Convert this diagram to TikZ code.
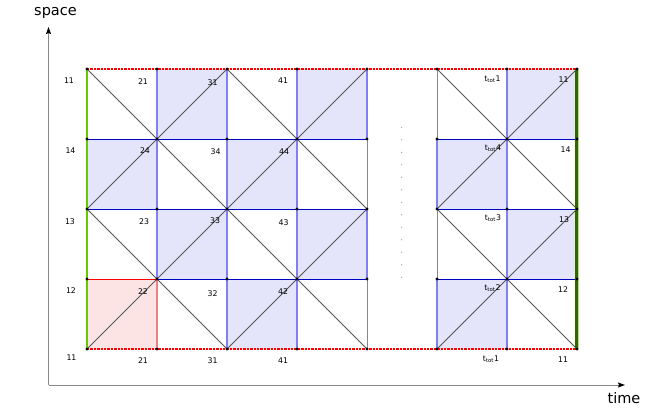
\documentclass[tikz,border=0pt]{standalone}
\usepackage{fontspec}
\setsansfont{DejaVu Sans}
\usetikzlibrary{arrows.meta}
\definecolor{hblue}{RGB}{0,0,195}
\definecolor{vblue}{RGB}{128,128,240}
\definecolor{cellblue}{RGB}{228,228,250}
\definecolor{cellpink}{RGB}{252,228,228}
\definecolor{pinkline}{RGB}{240,128,128}
\definecolor{diagc}{RGB}{85,85,85}
\definecolor{vgray}{RGB}{136,136,136}
\definecolor{lgreen}{RGB}{102,204,0}
\definecolor{llgreen}{RGB}{170,230,120}
\definecolor{dgreen}{RGB}{51,102,0}
\definecolor{axgray}{RGB}{136,136,136}
\tikzset{
  lab/.style={font=\fontsize{7.8}{9}\selectfont\sffamily, inner sep=0pt, text=black},
  axlab/.style={font=\fontsize{14.5}{16}\selectfont\sffamily, inner sep=0pt},
  grayline/.style={vgray, line width=1pt},
  hline/.style={hblue, line width=1pt},
  vline/.style={vblue, line width=1.4pt},
  diagline/.style={diagc, line width=0.9pt},
  redborder/.style={red, line width=2.6pt, dash pattern=on 2.3pt off 1.1pt},
  axisline/.style={axgray, line width=1pt, -{Stealth[length=7pt,width=5pt,inset=1pt,black]}}
}
\begin{document}
\begin{tikzpicture}[x=1pt,y=-1pt]
\useasboundingbox (0,0) rectangle (664,408);
% grid points
\foreach \i in {0,...,7}{
  \foreach \j in {0,...,4}{
    \coordinate (p\i-\j) at ({87+70*\i},{69+70*\j});
  }
}
% shaded cells
\foreach \i/\j/\ii/\jj in {1/0/2/1,3/0/4/1,0/1/1/2,2/1/3/2,1/2/2/3,3/2/4/3,2/3/3/4,6/0/7/1,5/1/6/2,6/2/7/3,5/3/6/4}{
  \fill[cellblue] (p\i-\j) rectangle (p\ii-\jj);
}
\fill[cellpink] (p0-3) rectangle (p1-4);
% gray verticals
\foreach \i in {1,...,6}{
  \draw[grayline] (p\i-0) -- (p\i-4);
}
% horizontal lines
\foreach \j in {1,2,3}{
  \draw[hline] (p0-\j) -- (p4-\j);
  \draw[hline] (p5-\j) -- (p7-\j);
}
% blue vertical borders of shaded cells
\foreach \i/\j/\ii/\jj in {1/0/2/1,3/0/4/1,0/1/1/2,2/1/3/2,1/2/2/3,3/2/4/3,2/3/3/4,6/0/7/1,5/1/6/2,6/2/7/3,5/3/6/4}{
  \draw[vline] (p\i-\j) -- (p\i-\jj);
  \draw[vline] (p\ii-\j) -- (p\ii-\jj);
}
% pink cell borders
\draw[pinkline, line width=1.4pt] (p1-3) -- (p1-4);
\draw[red, line width=1pt] (p0-3) -- (p1-3);
% diagonals
\draw[diagline] (p0-0) -- (p4-4);
\draw[diagline] (p0-2) -- (p2-4);
\draw[diagline] (p2-0) -- (p4-2);
\draw[diagline] (p0-2) -- (p2-0);
\draw[diagline] (p0-4) -- (p4-0);
\draw[diagline] (p2-4) -- (p4-2);
\draw[diagline] (p5-0) -- (p7-2);
\draw[diagline] (p5-2) -- (p7-4);
\draw[diagline] (p5-2) -- (p7-0);
\draw[diagline] (p5-4) -- (p7-2);
% borders
\draw[redborder] (p0-0) -- (p7-0);
\draw[redborder] (p0-4) -- (p7-4);
\draw[lgreen, line width=2.5pt] (p0-0) -- (p0-4);
\draw[llgreen, line width=3pt] ([xshift=0.6pt]p7-0) -- ([xshift=0.6pt]p7-4);
\draw[dgreen, line width=2.2pt] ([xshift=-0.6pt]p7-0) -- ([xshift=-0.6pt]p7-4);
% grid dots
\foreach \i in {0,...,7}{
  \foreach \j in {0,...,4}{
    \fill[black] (p\i-\j) circle (1.7pt);
  }
}
% vertical ellipsis dots
\foreach \n in {0,...,12}{
  \fill[vgray] (401.7,{127.3+12.5*\n}) circle (0.6pt);
}
% axes
\coordinate (O) at (48.5,385);
\coordinate (Ytip) at (48.5,27);
\coordinate (Xtip) at (625,385);
\draw[axisline] (O) -- (Ytip);
\draw[axisline] (O) -- (Xtip);
\node[axlab] (space) at (55.5,13) {space};
\node[axlab] (time) at (624,398) {time};
% left column labels
\node[lab] (l0) at (69,81) {11};
\node[lab] (l1) at (70.5,151) {14};
\node[lab] (l2) at (70,221.5) {13};
\node[lab] (l3) at (71,291) {12};
\node[lab] (l4) at (71.5,358) {11};
% cell labels
\node[lab] (c21t) at (143,81.5) {21};
\node[lab] (c31t) at (212.5,83) {31};
\node[lab] (c41t) at (283,81) {41};
\node[lab] (c24) at (145,151) {24};
\node[lab] (c34) at (215.5,151.5) {34};
\node[lab] (c44) at (284,151.5) {44};
\node[lab] (c23) at (144,222) {23};
\node[lab] (c33) at (215,221) {33};
\node[lab] (c43) at (283.5,222.5) {43};
\node[lab] (c22) at (143,292) {22};
\node[lab] (c32) at (212.5,293.5) {32};
\node[lab] (c42) at (283,292) {42};
\node[lab] (c21b) at (143,360.5) {21};
\node[lab] (c31b) at (212.5,360.5) {31};
\node[lab] (c41b) at (283,360.5) {41};
% right block labels
\node[lab] (t1t) at (492.5,79.5) {t\textsubscript{tot}1};
\node[lab] (r11t) at (563.5,80) {11};
\node[lab] (t4) at (493,148.5) {t\textsubscript{tot}4};
\node[lab] (r14) at (565.5,149.5) {14};
\node[lab] (t3) at (493,218.5) {t\textsubscript{tot}3};
\node[lab] (r13) at (564,220) {13};
\node[lab] (t2) at (492.5,288.5) {t\textsubscript{tot}2};
\node[lab] (r12) at (563,290) {12};
\node[lab] (t1b) at (491,359.5) {t\textsubscript{tot}1};
\node[lab] (r11b) at (563,359.5) {11};
\end{tikzpicture}
\end{document}
